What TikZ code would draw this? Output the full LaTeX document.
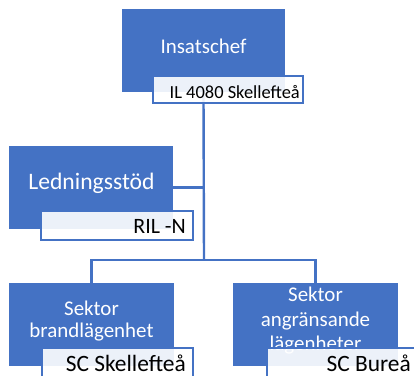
\documentclass[tikz,border=0pt]{standalone}
\usepackage{fontspec}
\setmainfont{Carlito}
\definecolor{ofblue}{HTML}{4472C4}
\begin{document}
\begin{tikzpicture}[x=1bp,y=-1bp,
  bluebox/.style={draw=none,fill=ofblue,minimum width=#1,minimum height=83bp,inner sep=0pt},
  labelbox/.style={draw=ofblue,line width=1.5bp,fill=white,fill opacity=0.9,inner sep=0pt},
  boxtext/.style={text=white,anchor=base,inner sep=0pt},
  labeltext/.style={text=black,anchor=base east,inner sep=0pt},
  conn/.style={draw=ofblue,line width=2.4bp}]
\useasboundingbox (0,0) rectangle (414,376);
\clip (0,0) rectangle (414,376);
% boxes
\node[bluebox=163bp] (ins) at (203.5,50.5) {};
\node[bluebox=164bp] (led) at (91,187.5) {};
\node[bluebox=165bp] (s1) at (91.5,324.5) {};
\node[bluebox=165bp] (s2) at (315.5,324.5) {};
% connectors
\coordinate (j) at (204,260);
\draw[conn] (ins.south) -- (j);
\draw[conn] (j) -| (s1.north);
\draw[conn] (j) -| (s2.north);
\draw[conn] (led.east) -- (led.east -| ins.south);
% box texts
\node[boxtext,font=\fontsize{21}{25}\selectfont] (t1) at (203.5,53) {Insatschef};
\node[boxtext,font=\fontsize{23.7}{28}\selectfont] (t2) at (91.5,189) {Ledningsstöd};
\node[boxtext,font=\fontsize{21}{25}\selectfont] (t3a) at (91.5,315) {Sektor};
\node[boxtext,font=\fontsize{21}{25}\selectfont] (t3b) at (91.5,337.5) {brandlägenhet};
\node[boxtext,font=\fontsize{21}{25}\selectfont] (t4a) at (315.5,301.7) {Sektor};
\node[boxtext,font=\fontsize{21}{25}\selectfont] (t4b) at (315.5,326.2) {angränsande};
\node[boxtext,font=\fontsize{21}{25}\selectfont] (t4c) at (315.5,350.7) {lägenheter};
% label boxes
\node[labelbox,minimum width=150bp,minimum height=27bp] (insL) at (228,89.5) {};
\node[labelbox,minimum width=152bp,minimum height=29bp] (ledL) at (117,225.5) {};
\node[labelbox,minimum width=151bp,minimum height=29bp] (s1L) at (117.5,362.5) {};
\node[labelbox,minimum width=151bp,minimum height=29bp] (s2L) at (342.5,362.5) {};
% label texts
\node[labeltext,font=\fontsize{18.5}{22}\selectfont] (l1) at (300,98) {IL 4080 Skellefteå};
\node[labeltext,font=\fontsize{22}{26}\selectfont] (l2) at (186,233.3) {RIL -N};
\node[labeltext,font=\fontsize{23.5}{28}\selectfont] (l3) at (186,371.7) {SC Skellefteå};
\node[labeltext,font=\fontsize{23.5}{28}\selectfont] (l4) at (411,371.7) {SC Bureå};
\end{tikzpicture}
\end{document}
